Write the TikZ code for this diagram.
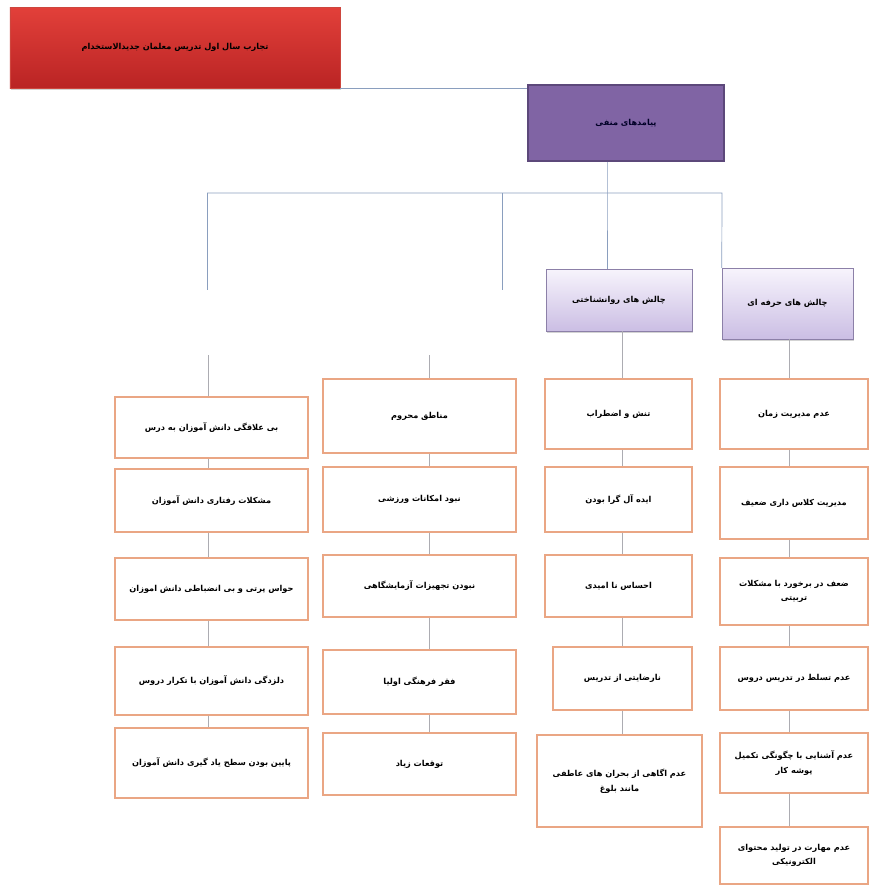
\documentclass[tikz,border=0pt]{standalone}
\usepackage{fontspec}
\usepackage{xcolor}
\usepackage{tikz}
\usetikzlibrary{shadows}
\TeXXeTstate=1
\newfontfamily\fa[Script=Arabic]{DejaVu Sans}
\newcommand\fatxt[1]{{\fa\bfseries\beginR #1\endR}}

\definecolor{redtop}{RGB}{226,64,58}
\definecolor{redbot}{RGB}{186,36,36}
\definecolor{redline}{RGB}{205,70,62}
\definecolor{purplefill}{RGB}{128,100,164}
\definecolor{purpleline}{RGB}{92,72,122}
\definecolor{lavtop}{RGB}{247,244,252}
\definecolor{lavbot}{RGB}{203,190,228}
\definecolor{lavline}{RGB}{140,128,168}
\definecolor{orangeline}{RGB}{234,166,132}
\definecolor{busline}{RGB}{138,158,190}
\definecolor{linkline}{RGB}{172,172,178}

\tikzset{
  titlebox/.style={rectangle, draw=redline, top color=redtop, bottom color=redbot,
    drop shadow={opacity=0.35, shadow xshift=0.6pt, shadow yshift=-1.6pt},
    font=\fontsize{7}{9}\selectfont},
  mainbox/.style={rectangle, draw=purpleline, line width=1.2pt, fill=purplefill,
    text=black!85!blue, font=\fontsize{7}{9}\selectfont},
  groupbox/.style={rectangle, draw=lavline, top color=lavtop, bottom color=lavbot,
    drop shadow={opacity=0.35, shadow xshift=0.6pt, shadow yshift=-1.6pt},
    font=\fontsize{7}{9}\selectfont},
  itembox/.style={rectangle, draw=orangeline, line width=1pt, fill=white,
    align=center, font=\fontsize{7}{12.5}\selectfont},
  busedge/.style={draw=busline, line width=0.6pt},
  linkedge/.style={draw=linkline, line width=0.5pt}
}

\begin{document}
\begin{tikzpicture}[x=0.03cm, y=-0.03cm]
\useasboundingbox (0,0) rectangle (870,886);

\node[titlebox, minimum width=9.9cm, minimum height=2.43cm] (title) at (175,47.5) {\fatxt{تجارب سال اول تدریس معلمان جدیدالاستخدام}};
\node[mainbox, minimum width=5.88cm, minimum height=2.28cm] (neg) at (626,123) {\fatxt{پیامدهای منفی}};
\node[groupbox, minimum width=4.38cm, minimum height=1.86cm] (psy) at (619,300) {\fatxt{چالش های روانشناختی}};
\node[groupbox, minimum width=3.93cm, minimum height=2.13cm] (prof) at (787.5,303.5) {\fatxt{چالش های حرفه ای}};

% column 1
\node[itembox, minimum width=5.79cm, minimum height=1.83cm] (c1a) at (211.5,427.5) {\fatxt{بی علاقگی دانش آموزان به درس}};
\node[itembox, minimum width=5.79cm, minimum height=1.89cm] (c1b) at (211.5,500.5) {\fatxt{مشکلات رفتاری دانش آموزان}};
\node[itembox, minimum width=5.79cm, minimum height=1.86cm] (c1c) at (211.5,589) {\fatxt{حواس پرتی و بی انضباطی دانش اموزان}};
\node[itembox, minimum width=5.79cm, minimum height=2.04cm] (c1d) at (211.5,681) {\fatxt{دلزدگی دانش آموزان با تکرار دروس}};
\node[itembox, minimum width=5.79cm, minimum height=2.10cm] (c1e) at (211.5,763) {\fatxt{پایین بودن سطح یاد گیری دانش آموزان}};

% column 2
\node[itembox, minimum width=5.79cm, minimum height=2.22cm] (c2a) at (419.5,416) {\fatxt{مناطق محروم}};
\node[itembox, minimum width=5.79cm, minimum height=1.95cm] (c2b) at (419.5,499.5) {\fatxt{نبود امکانات ورزشی}};
\node[itembox, minimum width=5.79cm, minimum height=1.86cm] (c2c) at (419.5,586) {\fatxt{نبودن تجهیزات آزمایشگاهی}};
\node[itembox, minimum width=5.79cm, minimum height=1.92cm] (c2d) at (419.5,682) {\fatxt{فقر فرهنگی اولیا}};
\node[itembox, minimum width=5.79cm, minimum height=1.86cm] (c2e) at (419.5,764) {\fatxt{توقعات زیاد}};

% column 3
\node[itembox, minimum width=4.41cm, minimum height=2.10cm] (c3a) at (618.5,414) {\fatxt{تنش و اضطراب}};
\node[itembox, minimum width=4.41cm, minimum height=1.95cm] (c3b) at (618.5,499.5) {\fatxt{ایده آل گرا بودن}};
\node[itembox, minimum width=4.41cm, minimum height=1.86cm] (c3c) at (618.5,586) {\fatxt{احساس نا امیدی}};
\node[itembox, minimum width=4.17cm, minimum height=1.89cm] (c3d) at (622.5,678.5) {\fatxt{نارضایتی از تدریس}};
\node[itembox, minimum width=4.95cm, minimum height=2.76cm] (c3e) at (619.5,781) {\fatxt{عدم اگاهی از بحران های عاطفی}\\\fatxt{مانند بلوغ}};

% column 4
\node[itembox, minimum width=4.44cm, minimum height=2.10cm] (c4a) at (794,414) {\fatxt{عدم مدیریت زمان}};
\node[itembox, minimum width=4.44cm, minimum height=2.16cm] (c4b) at (794,503) {\fatxt{مدیریت کلاس داری ضعیف}};
\node[itembox, minimum width=4.44cm, minimum height=2.01cm] (c4c) at (794,591.5) {\fatxt{ضعف در برخورد با مشکلات}\\\fatxt{تربیتی}};
\node[itembox, minimum width=4.44cm, minimum height=1.89cm] (c4d) at (794,678.5) {\fatxt{عدم تسلط در تدریس دروس}};
\node[itembox, minimum width=4.44cm, minimum height=1.80cm] (c4e) at (794,763) {\fatxt{عدم آشنایی با چگونگی تکمیل}\\\fatxt{پوشه کار}};
\node[itembox, minimum width=4.44cm, minimum height=1.71cm] (c4f) at (794,855.5) {\fatxt{عدم مهارت در تولید محتوای}\\\fatxt{الکترونیکی}};

\coordinate (busl) at (207,193);
\coordinate (busm) at (502,193);
\coordinate (busc) at (607,193);
\coordinate (busr) at (722,193);
\coordinate (stubl) at (207,290);
\coordinate (stubm) at (502,290);
\coordinate (topl) at (208,355);
\coordinate (topm) at (429,355);
\coordinate (l3) at (622,0);
\coordinate (l4) at (789,0);

\draw[busedge] (title.south east) -- (title.south east -| neg.west);
\draw[busedge] (neg.south -| busc) -- (busc) -- (psy.north -| busc);
\draw[busedge] (busl) -- (busr) -- (prof.north west);
\draw[busedge] (busl) -- (stubl);
\draw[busedge] (busm) -- (stubm);

\draw[linkedge] (topl) -- (c1a.north -| topl);
\draw[linkedge] (topm) -- (c2a.north -| topm);
\draw[linkedge] (psy.south -| l3) -- (c3a.north -| l3);
\draw[linkedge] (prof.south -| l4) -- (c4a.north -| l4);

\foreach \a/\b in {c1a/c1b, c1b/c1c, c1c/c1d, c1d/c1e}
  \draw[linkedge] (\a.south -| topl) -- (\b.north -| topl);
\foreach \a/\b in {c2a/c2b, c2b/c2c, c2c/c2d, c2d/c2e}
  \draw[linkedge] (\a.south -| topm) -- (\b.north -| topm);
\foreach \a/\b in {c3a/c3b, c3b/c3c, c3c/c3d, c3d/c3e}
  \draw[linkedge] (\a.south -| l3) -- (\b.north -| l3);
\foreach \a/\b in {c4a/c4b, c4b/c4c, c4c/c4d, c4d/c4e, c4e/c4f}
  \draw[linkedge] (\a.south -| l4) -- (\b.north -| l4);
\end{tikzpicture}
\end{document}
